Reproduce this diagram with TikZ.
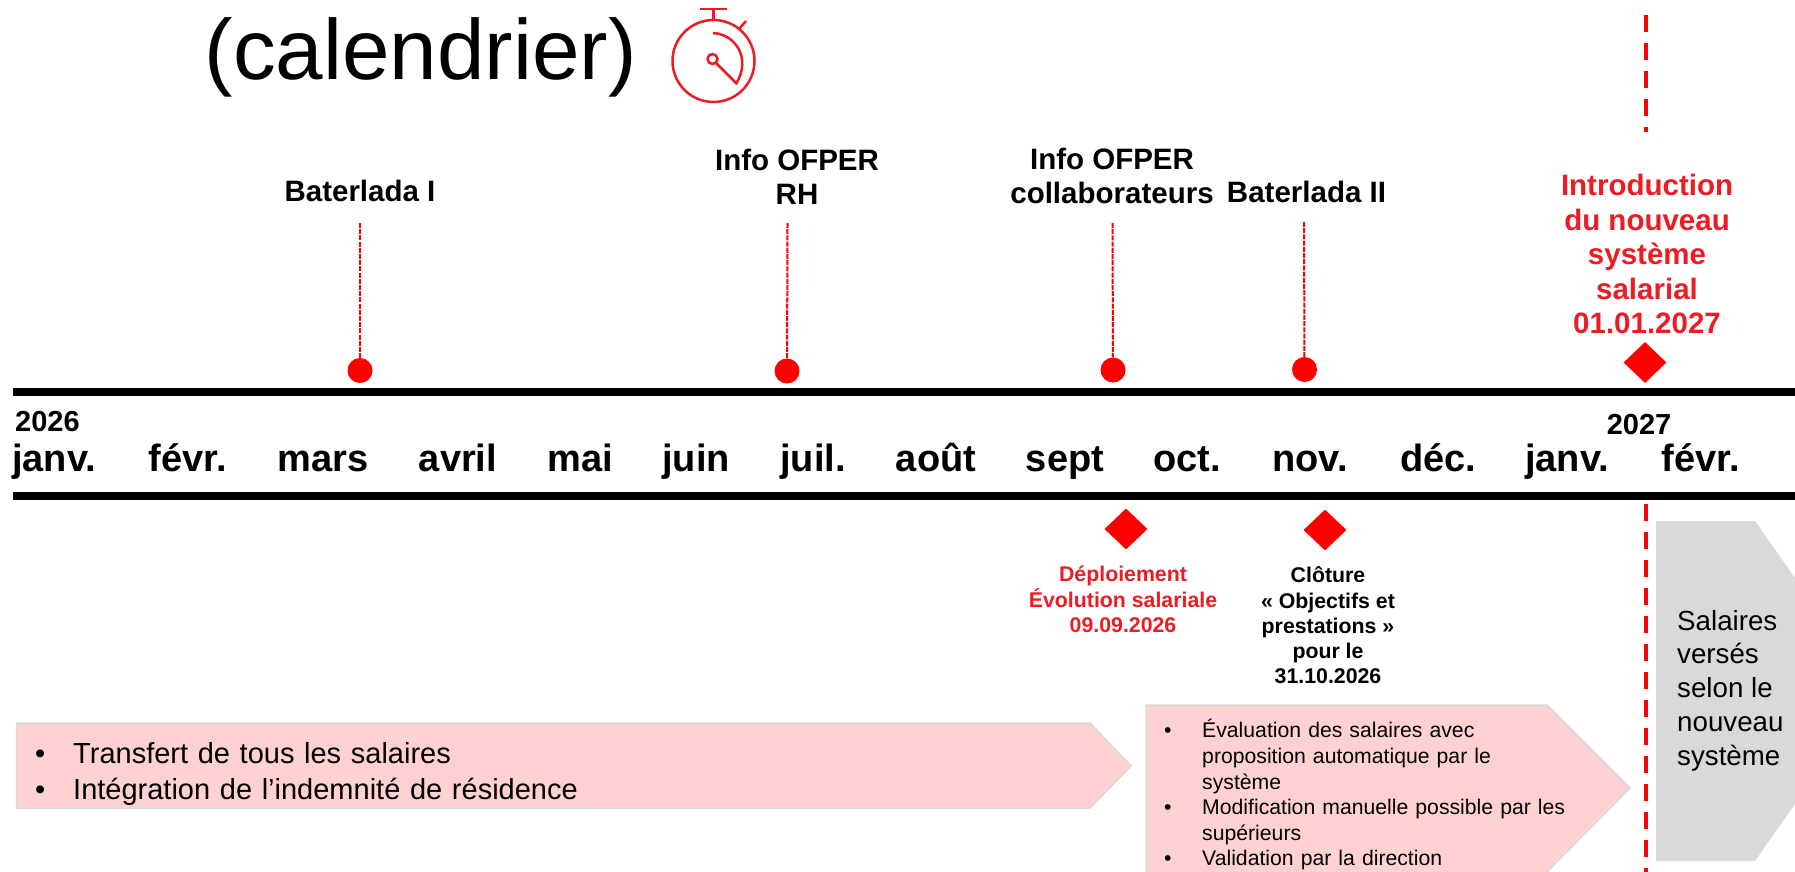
\documentclass[tikz,border=0pt]{standalone}
\usepackage{fontspec}
\setmainfont{Liberation Sans}
\usepackage{tikz}
\usetikzlibrary{positioning,shapes.geometric}
\definecolor{markred}{HTML}{FF0000}
\definecolor{textred}{HTML}{ED1C24}
\definecolor{boxpink}{HTML}{FFD1D1}
\definecolor{boxgrey}{HTML}{D9D9D9}
\newcommand{\bulletlist}[2]{\begin{list}{\textbullet}{\setlength{\leftmargin}{#1}\setlength{\labelwidth}{#1}\setlength{\labelsep}{0pt}\setlength{\topsep}{0pt}\setlength{\partopsep}{0pt}\setlength{\parsep}{0pt}\setlength{\itemsep}{0pt}\setlength{\rightmargin}{0pt}\renewcommand{\makelabel}[1]{\hspace{-3pt}##1\hfill}}\raggedright #2\end{list}}
\tikzset{
    month/.style = {font=\fontsize{38}{40}\bfseries\selectfont, inner sep=0pt, anchor=base},
    year/.style = {font=\fontsize{29}{33}\bfseries\selectfont, inner sep=0pt},
    event/.style = {font=\fontsize{29.5}{34.5}\bfseries\selectfont, align=center, inner sep=0pt},
    smallnote/.style = {font=\fontsize{21.3}{25.3}\bfseries\selectfont, align=center, inner sep=0pt},
    dot/.style = {circle, fill=markred, minimum size=25pt, inner sep=0pt},
    mark diamond/.style = {diamond, fill=markred, minimum width=43pt, minimum height=41pt, inner sep=0pt},
    lead/.style = {markred, line width=2pt, dash pattern=on 5pt off 1.2pt},
    cutline/.style = {markred, line width=4.5pt, dash pattern=on 17pt off 11pt},
    axis/.style = {line width=8pt, black},
    arrowbox/.style = {fill=boxpink, draw=boxgrey, line width=1.5pt},
    watch/.style = {textred, line width=2.5pt}
}
\begin{document}
\begin{tikzpicture}[x=1pt, y=-1pt]
    \useasboundingbox (0,0) rectangle (1795,872);

    % title and stopwatch
    \node[font=\fontsize{85.4}{95}\selectfont, inner sep=0pt, anchor=base] (title) at (420.7,79.5) {(calendrier)};
    \draw[watch] (713.5,61) circle [radius=41];
    \draw[watch] (700,9) -- (727,9);
    \draw[watch] (713.5,9) -- (713.5,20);
    \draw[watch] (739,29) -- (746,21);
    \draw[watch] (713,33) .. controls (735,34) and (752,58) .. (736,84);
    \draw[watch] (712.5,59) circle [radius=5];
    \draw[watch] (716,63) -- (737,84);

    % boxes below the timeline
    \fill[boxgrey] (1656,521) -- (1755,521) -- (1795,578) -- (1795,804) -- (1755,861) -- (1656,861) -- cycle;
    \draw[arrowbox] (16.5,723) -- (1090,723) -- (1131,766) -- (1090,808) -- (16.5,808) -- cycle;
    \draw[arrowbox] (1146,872) -- (1146,705) -- (1547,705) -- (1630,788) -- (1547,872);

    % timeline
    \coordinate (topstart) at (13,392);
    \coordinate (topend) at (1795,392);
    \coordinate (botstart) at (13,495.5);
    \coordinate (botend) at (1795,495.5);
    \draw[axis] (topstart) -- (topend);
    \draw[axis] (botstart) -- (botend);

    \node[year, anchor=west] (y2026) at (15,422) {2026};
    \node[year] (y2027) at (1639,425) {2027};
    \node[month] (m1) at (54,471) {janv.};
    \node[month] (m2) at (188,471) {févr.};
    \node[month] (m3) at (323,471) {mars};
    \node[month] (m4) at (458,471) {avril};
    \node[month] (m5) at (580,471) {mai};
    \node[month] (m6) at (696,471) {juin};
    \node[month] (m7) at (813,471) {juil.};
    \node[month] (m8) at (936,471) {août};
    \node[month] (m9) at (1065,471) {sept};
    \node[month] (m10) at (1187,471) {oct.};
    \node[month] (m11) at (1310,471) {nov.};
    \node[month] (m12) at (1438,471) {déc.};
    \node[month] (m13) at (1567,471) {janv.};
    \node[month] (m14) at (1701,471) {févr.};

    % events above
    \node[event] (bat1) at (360,191) {Baterlada I};
    \node[event] (inforh) at (797,177) {Info OFPER\\RH};
    \node[event] (infocol) at (1112,176) {Info OFPER\\collaborateurs};
    \node[event] (bat2) at (1306.5,192) {Baterlada II};
    \node[event, text=textred] (intro) at (1647,254) {Introduction\\du nouveau\\système\\salarial\\01.01.2027};

    \node[dot] (d1) at (360,370.5) {};
    \node[dot] (d2) at (787,371) {};
    \node[dot] (d3) at (1113,370) {};
    \node[dot] (d4) at (1304.5,369.5) {};
    \node[mark diamond] (dintro) at (1645,362.5) {};

    \coordinate (l1) at (360,223);
    \coordinate (l2) at (787.5,223);
    \coordinate (l3) at (1112.5,223);
    \coordinate (l4) at (1304,222);
    \draw[lead] (l1) -- (d1);
    \draw[lead] (l2) -- (d2);
    \draw[lead] (l3) -- (d3);
    \draw[lead] (l4) -- (d4);

    % red line of the new system
    \coordinate (cut1) at (1646,15);
    \coordinate (cut2) at (1646,132);
    \coordinate (cut3) at (1646,504);
    \coordinate (cut4) at (1646,872);
    \draw[cutline] (cut1) -- (cut2);
    \draw[cutline] (cut3) -- (cut4);

    % notes below
    \node[mark diamond] (ddep) at (1126,529) {};
    \node[mark diamond] (dclo) at (1325,530) {};
    \node[smallnote, text=textred] (dep) at (1123,599.5) {Déploiement\\Évolution salariale\\09.09.2026};
    \node[smallnote] (clo) at (1328,625.5) {Clôture\\« Objectifs et\\prestations »\\pour le\\31.10.2026};

    % box texts
    \node[anchor=north west, inner sep=0pt, text width=1040pt, font=\fontsize{29}{36}\selectfont] (t1) at (38,727) {\bulletlist{35pt}{\item Transfert de tous les salaires
        \item Intégration de l’indemnité de résidence}};
    \node[anchor=north west, inner sep=0pt, text width=405pt, font=\fontsize{21.2}{25.6}\selectfont] (t2) at (1167,712) {\bulletlist{35pt}{\item Évaluation des salaires avec\\proposition automatique par le\\système
        \item Modification manuelle possible par les\\supérieurs
        \item Validation par la direction}};
    \node[anchor=west, inner sep=0pt, align=left, font=\fontsize{27.7}{33.7}\selectfont] (t3) at (1677,690.5) {Salaires\\versés\\selon le\\nouveau\\système};
\end{tikzpicture}
\end{document}
